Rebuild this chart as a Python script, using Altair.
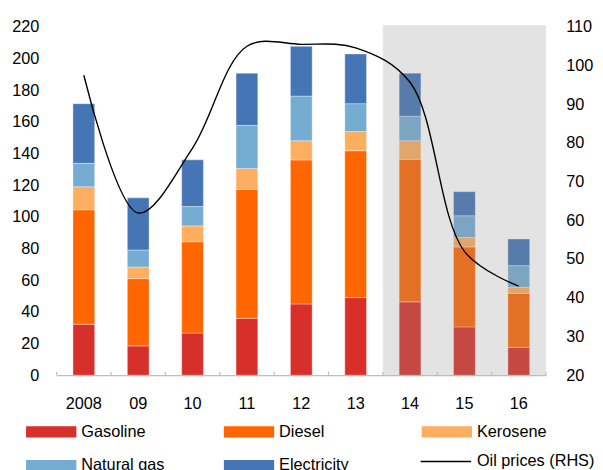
import altair as alt
import pandas as pd

years = ["2008", "09", "10", "11", "12", "13", "14", "15", "16"]
gasoline = [32.2, 18.5, 26.6, 35.9, 45.0, 49.0, 46.3, 30.5, 17.6]
diesel = [72.3, 42.5, 57.7, 81.4, 91.0, 92.8, 90.1, 50.5, 34.1]
kerosene = [14.5, 7.3, 10.0, 13.3, 12.1, 12.1, 11.7, 6.0, 3.8]
natural_gas = [14.8, 10.8, 12.2, 27.2, 28.2, 17.6, 15.5, 13.7, 13.7]
electricity = [37.7, 32.9, 29.5, 33.0, 31.4, 31.4, 27.2, 15.2, 16.8]
oil_prices = [97.5, 61.9, 78.7, 105.0, 105.5, 104.6, 95.7, 52.0, 43.0]
shaded_years = ["14", "15", "16"]
left_ticks = [0, 20, 40, 60, 80, 100, 120, 140, 160, 180, 200, 220]
right_ticks = [20, 30, 40, 50, 60, 70, 80, 90, 100, 110]

series_names = ["Gasoline", "Diesel", "Kerosene", "Natural gas", "Electricity"]
series_colors = ["#D7302A", "#FF6600", "#FDAE61", "#74ADD1", "#4575B4"]
series_values = [gasoline, diesel, kerosene, natural_gas, electricity]

rows = []
for i, (name, vals) in enumerate(zip(series_names, series_values)):
    for y, v in zip(years, vals):
        rows.append({"year": y, "series": name, "value": v, "idx": i})
bars_df = pd.DataFrame(rows)
oil_df = pd.DataFrame({"year": years, "oil": oil_prices, "label": "Oil prices (RHS)"})
shade_df = pd.DataFrame({"year": shaded_years, "lo": 0, "hi": 221})
tick_df = pd.DataFrame({"year": years})
last_df = pd.DataFrame({"year": [years[-1]]})

FONT = "Liberation Sans"
FS = 16.5

xscale = alt.Scale(domain=years, paddingInner=0, paddingOuter=0)
yleft = alt.Scale(domain=[0, 220], nice=False, zero=True)

xaxis = alt.Axis(title=None, labelAngle=0, ticks=False, domain=True,
                 domainColor="#BFBFBF", domainWidth=1.2, labelPadding=21,
                 labelFont=FONT, labelFontSize=FS, labelColor="black")
yaxis = alt.Axis(title=None, values=left_ticks, grid=False,
                 ticks=False, domain=False, labelPadding=18, labelOverlap=False,
                 labelFont=FONT, labelFontSize=FS, labelColor="black")

bars = alt.Chart(bars_df).mark_bar(
    width=alt.RelativeBandSize(0.4), stroke="white", strokeWidth=0.6, strokeOpacity=0.6
).encode(
    x=alt.X("year:N", scale=xscale, sort=years, axis=xaxis),
    y=alt.Y("value:Q", stack="zero", scale=yleft, axis=yaxis),
    fill=alt.Fill("series:N",
                  scale=alt.Scale(domain=series_names, range=series_colors),
                  legend=alt.Legend(title=None, orient="none", legendX=-31, legendY=385,
                                    direction="horizontal",
                                    columns=3, gridAlign="all", columnPadding=59.5,
                                    rowPadding=-31,
                                    symbolType="M-1,-0.22H1V0.22H-1Z", symbolSize=2601,
                                    symbolStrokeWidth=0, symbolOpacity=1,
                                    labelFont=FONT, labelFontSize=FS, labelColor="black",
                                    labelOffset=5)),
    order=alt.Order("idx:Q"),
)

shade = alt.Chart(shade_df).mark_rect(color="#8F8F8F", opacity=0.25).encode(
    x=alt.X("year:N", scale=xscale, sort=years, axis=xaxis),
    y=alt.Y("lo:Q", scale=yleft, axis=yaxis),
    y2="hi:Q",
)

ticks = alt.Chart(tick_df).mark_rule(color="#BFBFBF", strokeWidth=1.2).encode(
    x=alt.X("year:N", scale=xscale, sort=years, bandPosition=0, axis=xaxis),
    y=alt.YDatum(0, axis=yaxis),
    y2=alt.datum(2.2),
)
ticks_end = alt.Chart(last_df).mark_rule(color="#BFBFBF", strokeWidth=1.2).encode(
    x=alt.X("year:N", scale=xscale, sort=years, bandPosition=1, axis=xaxis),
    y=alt.YDatum(0, axis=yaxis),
    y2=alt.datum(2.2),
)

left = alt.layer(bars, shade, ticks, ticks_end)

line = alt.Chart(oil_df).mark_line(interpolate="catmull-rom", strokeWidth=1.4).encode(
    x=alt.X("year:N", scale=xscale, sort=years, axis=xaxis),
    y=alt.Y("oil:Q", scale=alt.Scale(domain=[20, 110], nice=False, zero=False),
            axis=alt.Axis(title=None, orient="right", values=right_ticks,
                          grid=False, ticks=False, domain=False, labelPadding=20,
                          labelAlign="left", labelOverlap=False,
                          labelFont=FONT, labelFontSize=FS, labelColor="black")),
    stroke=alt.Stroke("label:N", scale=alt.Scale(range=["black"]),
                      legend=alt.Legend(title=None, orient="none", legendX=368, legendY=414,
                                        symbolType="stroke", symbolSize=2601,
                                        symbolStrokeWidth=1.4,
                                        labelFont=FONT, labelFontSize=FS,
                                        labelColor="black", labelOffset=5)),
)

chart = alt.layer(left, line).resolve_scale(y="independent").properties(
    width=496, height=353,
    padding={"left": 49.3, "top": 16, "right": 49.7, "bottom": 95},
    autosize="none",
).configure_view(stroke=None)

chart.save("out.html", embed_options={"renderer": "svg", "actions": False})
